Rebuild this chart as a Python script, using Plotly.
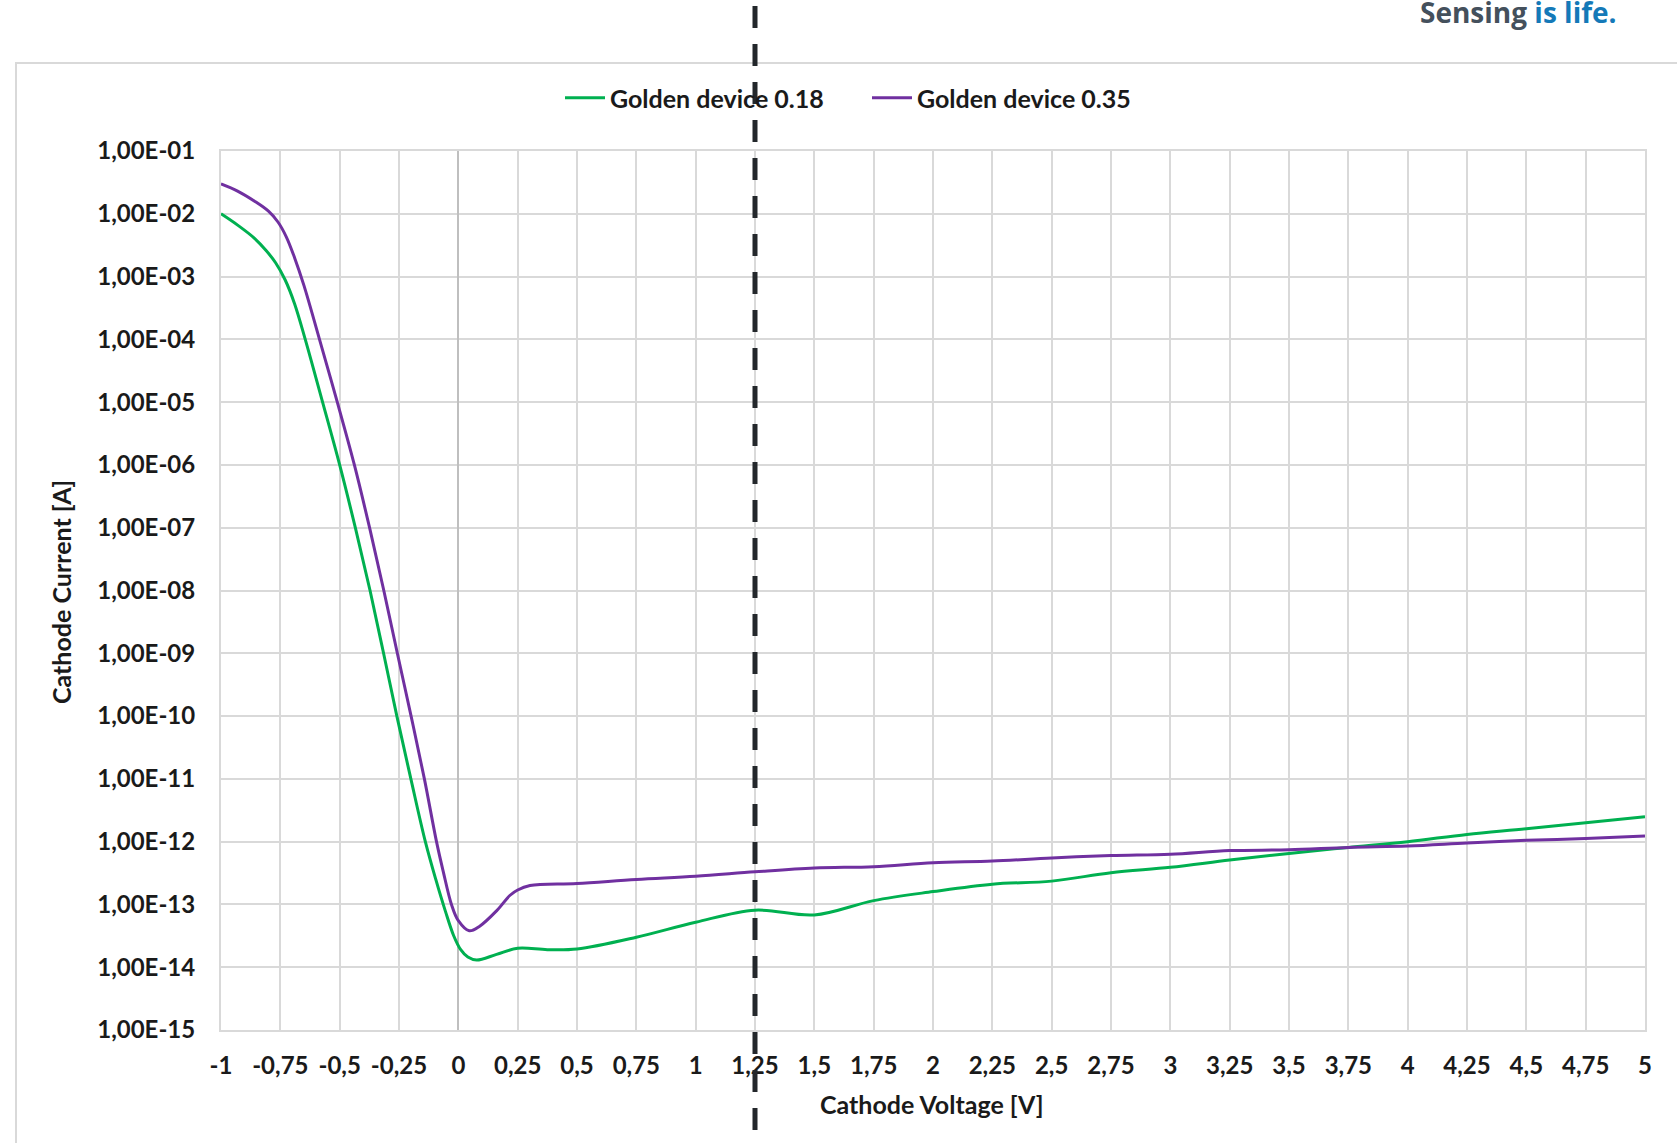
import plotly.graph_objects as go

# Cathode voltage sweep [V] and measured cathode current [A] for two golden devices
voltage_018 = [-1.0, -0.93, -0.86, -0.81, -0.77, -0.73, -0.69, -0.645, -0.572, -0.5,
               -0.434, -0.372, -0.315, -0.259, -0.2, -0.139, -0.095, -0.055, -0.02, 0.01,
               0.04, 0.077, 0.161, 0.25, 0.375, 0.5, 0.75, 1.0, 1.25, 1.5,
               1.75, 2.0, 2.25, 2.5, 2.75, 3.0, 3.25, 3.5, 3.75, 4.0,
               4.25, 4.5, 4.75, 5.0]
current_018 = [1.0e-2, 6.6e-3, 4.1e-3, 2.6e-3, 1.66e-3, 8.9e-4, 3.7e-4, 1.0e-4, 1.0e-5, 1.0e-6,
               1.0e-7, 1.0e-8, 1.0e-9, 1.0e-10, 1.0e-11, 1.0e-12, 2.5e-13, 7.9e-14, 3.2e-14, 1.9e-14,
               1.45e-14, 1.3e-14, 1.6e-14, 2.0e-14, 1.9e-14, 1.95e-14, 3.0e-14, 5.2e-14, 8.1e-14, 6.8e-14,
               1.15e-13, 1.6e-13, 2.1e-13, 2.35e-13, 3.2e-13, 3.9e-13, 5.1e-13, 6.5e-13, 8.1e-13, 1.0e-12,
               1.3e-12, 1.6e-12, 2.0e-12, 2.5e-12]

voltage_035 = [-1.0, -0.93, -0.86, -0.8, -0.76, -0.725, -0.69, -0.65, -0.585, -0.51,
               -0.438, -0.374, -0.314, -0.257, -0.199, -0.143, -0.092, -0.064, -0.029, 0.0,
               0.046, 0.09, 0.161, 0.218, 0.25, 0.302, 0.5, 0.75, 1.0, 1.25,
               1.5, 1.75, 2.0, 2.25, 2.5, 2.75, 3.0, 3.25, 3.5, 3.75,
               4.0, 4.25, 4.5, 4.75, 5.0]
current_035 = [3.0e-2, 2.3e-2, 1.6e-2, 1.1e-2, 7.4e-3, 4.3e-3, 2.0e-3, 7.1e-4, 1.0e-4, 1.0e-5,
               1.0e-6, 1.0e-7, 1.0e-8, 1.0e-9, 1.0e-10, 1.0e-11, 1.0e-12, 3.4e-13, 1.0e-13, 5.5e-14,
               3.8e-14, 4.5e-14, 7.9e-14, 1.4e-13, 1.7e-13, 2.0e-13, 2.15e-13, 2.5e-13, 2.8e-13, 3.3e-13,
               3.8e-13, 4.0e-13, 4.6e-13, 4.9e-13, 5.5e-13, 6.0e-13, 6.3e-13, 7.2e-13, 7.4e-13, 8.1e-13,
               8.5e-13, 9.5e-13, 1.05e-12, 1.12e-12, 1.23e-12]

# Axis ticks
x_ticks = [-1 + 0.25 * i for i in range(25)]
x_tick_labels = ["-1", "-0,75", "-0,5", "-0,25", "0", "0,25", "0,5", "0,75", "1", "1,25",
                 "1,5", "1,75", "2", "2,25", "2,5", "2,75", "3", "3,25", "3,5", "3,75",
                 "4", "4,25", "4,5", "4,75", "5"]
y_ticks = [10.0 ** -k for k in range(1, 16)]
y_tick_labels = ["1,00E-%02d" % k for k in range(1, 16)]

marker_voltage = 1.25

FONT = "Lato"
TEXT = "#1a1a1a"
GRID = "#d9d9d9"

fig = go.Figure()
fig.add_trace(go.Scatter(x=voltage_018, y=current_018, mode="lines", name="Golden device 0.18",
                         line=dict(color="#00b050", width=3, shape="spline", smoothing=1.0)))
fig.add_trace(go.Scatter(x=voltage_035, y=current_035, mode="lines", name="Golden device 0.35",
                         line=dict(color="#7030a0", width=3, shape="spline", smoothing=1.0)))

W, H = 1677, 1143
L, R, T, B = 221, 1645, 151, 1030
pw, ph = R - L, B - T


def px(xp):
    return (xp - L) / pw


def py(yp):
    return (B - yp) / ph


# Outer chart frame
fig.add_shape(type="rect", xref="paper", yref="paper",
              x0=px(16), x1=px(1700), y0=py(1170), y1=py(63),
              line=dict(color=GRID, width=2), fillcolor="rgba(0,0,0,0)", layer="below")

# Dashed marker line at the operating voltage
fig.add_shape(type="line", xref="x", yref="paper",
              x0=marker_voltage, x1=marker_voltage, y0=py(6), y1=py(1160),
              line=dict(color="#23272b", width=5, dash="22px,16px"), layer="above")

fig.add_annotation(xref="paper", yref="paper", x=px(1418), y=py(12), xanchor="left", yanchor="middle",
                   showarrow=False,
                   text='<span style="color:#44505c">Sensing</span> <span style="color:#1479b8">is life.</span>',
                   font=dict(family="Open Sans", size=28, weight="bold"))

fig.add_annotation(xref="paper", yref="paper", x=px(932), y=py(1104), xanchor="center", yanchor="middle",
                   showarrow=False, text="Cathode Voltage [V]",
                   font=dict(family=FONT, size=25, color=TEXT, weight="bold"))
fig.add_annotation(xref="paper", yref="paper", x=px(61), y=py(592), xanchor="center", yanchor="middle",
                   showarrow=False, text="Cathode Current [A]", textangle=-90,
                   font=dict(family=FONT, size=25, color=TEXT, weight="bold"))

fig.update_layout(
    width=W, height=H,
    margin=dict(l=L, r=W - R, t=T, b=H - B),
    paper_bgcolor="white", plot_bgcolor="white",
    showlegend=True,
    legend=dict(orientation="h", x=px(560), y=py(98), xanchor="left", yanchor="middle",
                font=dict(family=FONT, size=25, color=TEXT, weight="bold"),
                bgcolor="rgba(0,0,0,0)", itemwidth=40, entrywidth=252),
    xaxis=dict(range=[-1, 5], tickmode="array", tickvals=x_ticks, ticktext=x_tick_labels,
               showgrid=True, gridcolor=GRID, gridwidth=2,
               zeroline=True, zerolinecolor="#bfbfbf", zerolinewidth=2,
               showline=True, linecolor=GRID, linewidth=2, mirror=True,
               ticks="", ticklabelstandoff=13,
               tickfont=dict(family=FONT, size=24, color=TEXT, weight="bold")),
    yaxis=dict(type="log", range=[-15, -1], tickmode="array", tickvals=y_ticks, ticktext=y_tick_labels,
               showgrid=True, gridcolor=GRID, gridwidth=2,
               showline=True, linecolor=GRID, linewidth=2, mirror=True,
               ticks="", ticklabelstandoff=19,
               tickfont=dict(family=FONT, size=24, color=TEXT, weight="bold")),
)

fig.write_html("out.html")
